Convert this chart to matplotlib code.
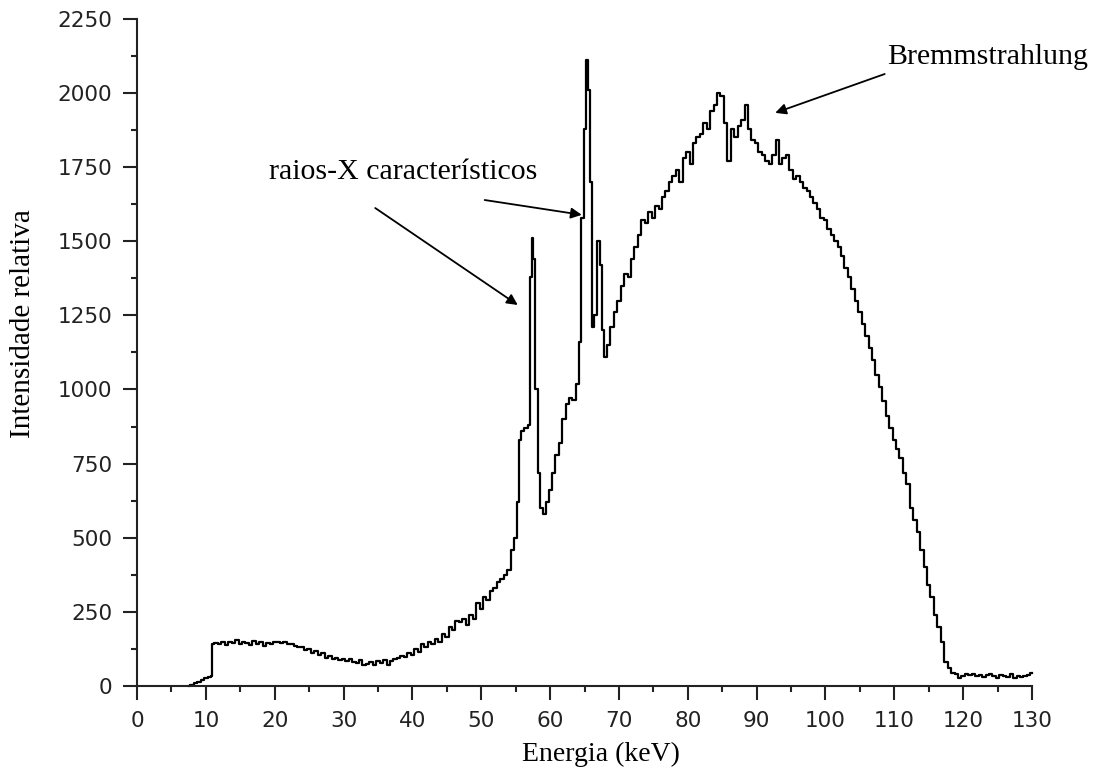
import matplotlib
matplotlib.use("Agg")
import matplotlib.pyplot as plt
from matplotlib.ticker import MultipleLocator

# spectrum (keV, relative intensity)
energy = [
    7.5, 8, 8.5, 9, 9.5, 10, 10.5, 10.9, 11,
    11.5, 12, 12.5, 13, 13.5, 14, 14.5, 15, 15.5, 16, 16.5, 17, 17.5, 18, 18.5, 19, 19.5, 20,
    20.5, 21, 21.5, 22, 22.5, 23, 23.5, 24, 24.5, 25, 25.5, 26, 26.5, 27, 27.5, 28, 28.5, 29, 29.5, 30,
    30.5, 31, 31.5, 32, 32.5, 33, 33.5, 34, 34.5, 35, 35.5, 36, 36.5, 37, 37.5, 38, 38.5, 39, 39.5, 40,
    40.5, 41, 41.5, 42, 42.5, 43, 43.5, 44, 44.5, 45, 45.5, 46, 46.5, 47, 47.5, 48, 48.5, 49, 49.5, 50,
    50.5, 51, 51.5, 52, 52.5, 53, 53.5, 54, 54.5, 55, 55.3, 55.6, 56, 56.5, 57, 57.2, 57.4, 57.7,
    58, 58.4, 58.8, 59.2, 59.6, 60, 60.5, 61, 61.5, 62, 62.5, 63, 63.5, 64, 64.4, 64.7,
    65.1, 65.4, 65.7, 65.9, 66.2, 66.6, 67, 67.4, 67.7, 68.1, 68.5, 69, 69.5, 70,
    70.5, 71, 71.5, 72, 72.5, 73, 73.5, 74, 74.5, 75, 75.5, 76, 76.5, 77, 77.5, 78, 78.5, 79, 79.5, 80,
    80.5, 81, 81.5, 82, 82.5, 83, 83.5, 84, 84.5, 85, 85.5, 86, 86.5, 87, 87.5, 88, 88.5, 89, 89.5, 90,
    90.5, 91, 91.5, 92, 92.5, 93, 93.5, 94, 94.5, 95, 95.5, 96, 96.5, 97, 97.5, 98, 98.5, 99, 99.5, 100,
    100.5, 101, 101.5, 102, 102.5, 103, 103.5, 104, 104.5, 105, 105.5, 106, 106.5, 107, 107.5, 108, 108.5, 109, 109.5, 110,
    110.5, 111, 111.5, 112, 112.5, 113, 113.5, 114, 114.5, 115, 115.5, 116, 116.5, 117, 117.5, 118, 118.5, 119, 119.5, 120,
    120.5, 121, 121.5, 122, 122.5, 123, 123.5, 124, 124.5, 125, 125.5, 126, 126.5, 127, 127.5, 128, 128.5, 129, 129.5, 130,
]
intensity = [
    0, 5, 10, 15, 20, 28, 30, 35, 140,
    145, 140, 148, 138, 150, 145, 155, 140, 150, 145, 138, 152, 142, 148, 135, 145, 140, 150,
    148, 145, 150, 140, 142, 135, 130, 132, 122, 125, 112, 118, 105, 110, 95, 100, 92, 95, 88, 90,
    85, 92, 80, 78, 88, 70, 75, 82, 72, 85, 78, 88, 70, 85, 90, 95, 100, 98, 110, 105,
    125, 115, 140, 130, 150, 140, 160, 150, 175, 165, 200, 190, 220, 215, 225, 205, 240, 225, 280, 260,
    300, 290, 320, 330, 350, 360, 375, 390, 460, 500, 620, 830, 860, 870, 880, 1380, 1510, 1440,
    1000, 720, 600, 580, 620, 660, 720, 780, 820, 900, 950, 970, 965, 1020, 1160, 1580,
    1880, 2110, 2010, 1700, 1210, 1250, 1500, 1420, 1200, 1110, 1150, 1210, 1260, 1300,
    1350, 1390, 1380, 1440, 1480, 1520, 1570, 1560, 1600, 1580, 1620, 1610, 1650, 1670, 1700, 1720, 1740, 1700, 1780, 1800,
    1760, 1830, 1850, 1860, 1900, 1880, 1940, 1960, 2000, 1990, 1900, 1770, 1880, 1850, 1890, 1910, 1960, 1880, 1840, 1830,
    1800, 1790, 1770, 1760, 1790, 1840, 1760, 1780, 1790, 1740, 1710, 1720, 1700, 1680, 1670, 1650, 1630, 1610, 1580, 1570,
    1540, 1520, 1500, 1480, 1450, 1410, 1380, 1340, 1300, 1260, 1220, 1180, 1140, 1100, 1050, 1010, 960, 910, 870, 830,
    800, 770, 720, 680, 600, 560, 520, 460, 400, 340, 300, 240, 200, 150, 80, 60, 45, 40, 28, 35,
    40, 38, 42, 35, 38, 30, 36, 40, 32, 28, 38, 35, 30, 40, 28, 35, 30, 32, 38, 44,
]

serif = "Liberation Serif"

fig = plt.figure(figsize=(10.98, 7.76), dpi=100)
ax = fig.add_axes([0.1248, 0.116, 0.8151, 0.8597])

ax.plot(energy, intensity, color="black", linewidth=1.6, drawstyle="steps-mid", clip_on=False)

ax.set_xlim(0, 130)
ax.set_ylim(0, 2250)
ax.xaxis.set_major_locator(MultipleLocator(10))
ax.xaxis.set_minor_locator(MultipleLocator(5))
ax.yaxis.set_major_locator(MultipleLocator(250))
ax.yaxis.set_minor_locator(MultipleLocator(125))

for side in ["top", "right"]:
    ax.spines[side].set_visible(False)
for side in ["left", "bottom"]:
    ax.spines[side].set_linewidth(1.5)
    ax.spines[side].set_color("#222222")

ax.tick_params(which="major", length=10, width=1.5, pad=8, labelsize=15.5, colors="#222222")
ax.tick_params(which="minor", length=4.5, width=1.5, colors="#222222")

ax.set_xlabel("Energia (keV)", fontsize=20, family=serif)
ax.set_ylabel("Intensidade relativa", fontsize=21, family=serif)
ax.xaxis.set_label_coords(0.518, -0.083)
ax.yaxis.set_label_coords(-0.113, 0.543)

arrow = dict(arrowstyle="-|>", color="black", lw=1.3, mutation_scale=16, shrinkA=0, shrinkB=0)
ax.annotate("", xy=(55.3, 1285), xytext=(34.6, 1612), arrowprops=arrow)
ax.annotate("", xy=(64.6, 1589), xytext=(50.5, 1639), arrowprops=arrow)
ax.annotate("", xy=(92.7, 1933), xytext=(108.6, 2064), arrowprops=arrow)

ax.text(38.6, 1734, "raios-X característicos", fontsize=21.5, family=serif, ha="center", va="center")
ax.text(123.6, 2122, "Bremmstrahlung", fontsize=21.5, family=serif, ha="center", va="center", clip_on=False)

fig.savefig("out.png", dpi=100)
